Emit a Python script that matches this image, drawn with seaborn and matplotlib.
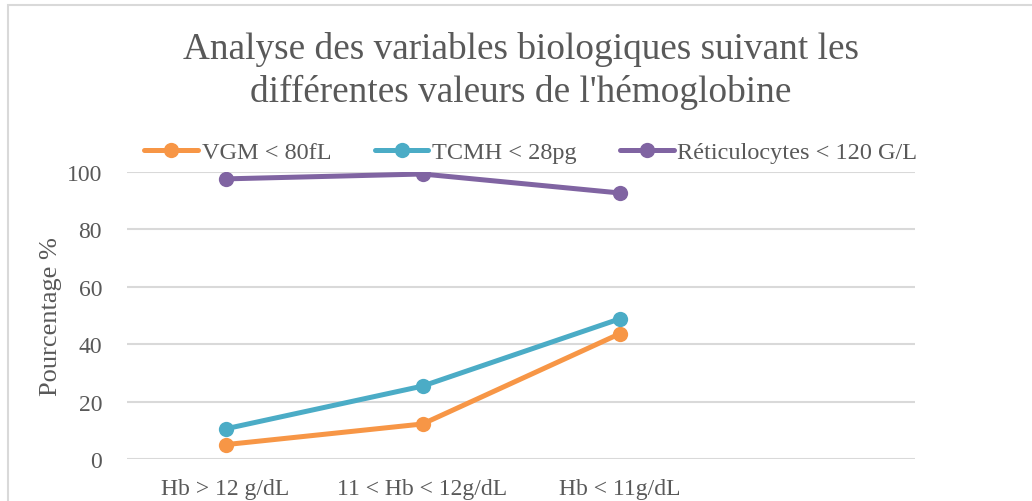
import pandas as pd
import seaborn as sns
import matplotlib.pyplot as plt
from matplotlib.patches import Rectangle

# données
categories = ["Hb > 12 g/dL", "11 < Hb < 12g/dL", "Hb < 11g/dL"]
vgm = [5.0, 12.2, 43.6]
tcmh = [10.5, 25.4, 48.8]
reti = [97.6, 99.3, 92.7]
series = ["VGM < 80fL", "TCMH < 28pg", "Réticulocytes < 120 G/L"]
couleurs = ["#F79646", "#4BACC6", "#8064A2"]

rows = []
for nom, vals in zip(series, [vgm, tcmh, reti]):
    for i, v in enumerate(vals):
        rows.append({"x": i, "Hb": categories[i], "serie": nom, "val": v})
df = pd.DataFrame(rows)

sns.set_style("white")
plt.rcParams["font.family"] = ["Liberation Serif", "DejaVu Serif"]
gris = "#595959"

fig = plt.figure(figsize=(10.32, 5.02), dpi=100)
ax = fig.add_axes([127 / 1032, 1 - 460 / 502, 788 / 1032, 287 / 502])

sns.lineplot(data=df, x="x", y="val", hue="serie", palette=couleurs,
             marker="o", markersize=11, linewidth=3.6, markeredgewidth=0,
             ax=ax, legend=True)

ax.set_xlim(-0.5, 3.5)
ax.set_ylim(0, 100)
ax.set_yticks([0, 20, 40, 60, 80, 100])
ax.set_xticks(range(len(categories)))
ax.set_xticklabels(categories)
ax.yaxis.grid(True, color="#D9D9D9", linewidth=1.5)
ax.set_axisbelow(True)
for s in ax.spines.values():
    s.set_visible(False)
ax.tick_params(axis="both", length=0, labelsize=17, colors=gris)
ax.tick_params(axis="y", pad=18)
ax.tick_params(axis="x", pad=14)
ax.set_xlabel("")
ax.set_ylabel("Pourcentage %", fontsize=19, color=gris, labelpad=3)

h, l = ax.get_legend_handles_labels()
ax.legend(h, l, loc="center", bbox_to_anchor=(531 / 1032, 1 - 153 / 502),
          bbox_transform=fig.transFigure, ncol=3, frameon=False,
          fontsize=17.5, labelcolor=gris, handlelength=2.2, handletextpad=0.15,
          columnspacing=1.8, borderaxespad=0)

fig.text(521 / 1032, 1 - 71 / 502,
         "Analyse des variables biologiques suivant les\ndifférentes valeurs de l'hémoglobine",
         ha="center", va="center", fontsize=26.8, color=gris, linespacing=1.27)

fig.patches.append(Rectangle((8 / 1032, -0.1), 1.2, 1 - 6 / 502 + 0.1,
                             transform=fig.transFigure, fill=False,
                             edgecolor="#D9D9D9", linewidth=1.5))

fig.savefig("out.png", dpi=100)
